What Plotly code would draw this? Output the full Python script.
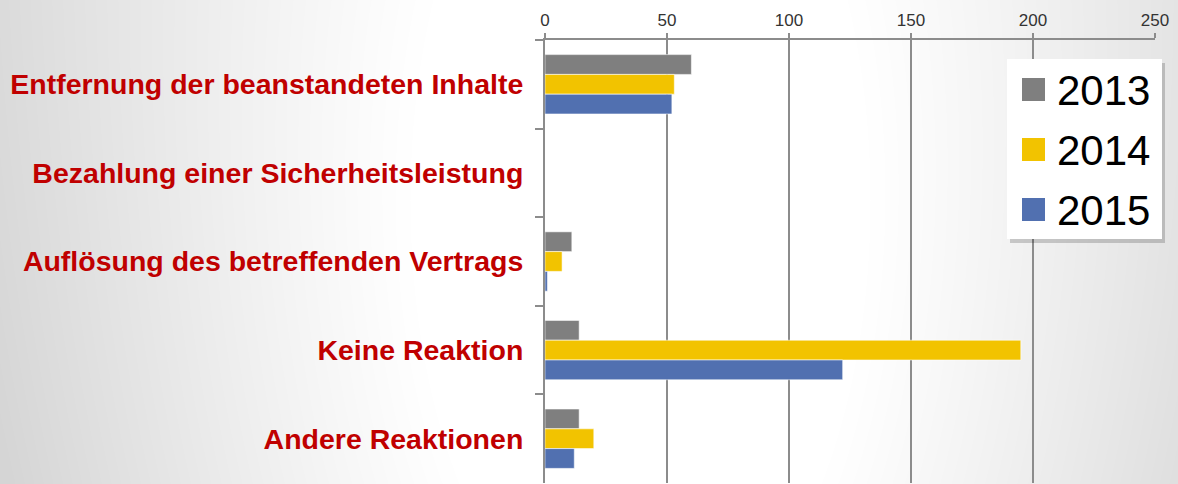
import base64
import struct
import zlib

import numpy as np
import plotly.graph_objects as go

# ---------------- data ----------------
categories = [
    "Entfernung der beanstandeten Inhalte",
    "Bezahlung einer Sicherheitsleistung",
    "Auflösung des betreffenden Vertrags",
    "Keine Reaktion",
    "Andere Reaktionen",
]
years = ["2013", "2014", "2015"]
values_2013 = [60, 0, 11, 14, 14]
values_2014 = [53, 0, 7, 195, 20]
values_2015 = [52, 0, 1, 122, 12]
x_tick_values = [0, 50, 100, 150, 200, 250]

series = [values_2013, values_2014, values_2015]
colors = ["#7F7F7F", "#F2C300", "#5170B0"]

# ---------------- geometry ----------------
W, H = 1178, 484
PL, PR, PT, PB = 545, 1155, 40, 483  # plot area in pixels


def px_x(px):
    return (px - PL) / (PR - PL)


def px_y(py):
    return (PB - py) / (PB - PT)


# ---------------- background gradient image ----------------
def make_png_gray(arr):
    h, w = arr.shape
    raw = b"".join(b"\x00" + arr[i].tobytes() for i in range(h))

    def chunk(t, d):
        return struct.pack(">I", len(d)) + t + d + struct.pack(">I", zlib.crc32(t + d) & 0xFFFFFFFF)

    ihdr = struct.pack(">IIBBBBB", w, h, 8, 0, 0, 0, 0)
    return b"\x89PNG\r\n\x1a\n" + chunk(b"IHDR", ihdr) + chunk(b"IDAT", zlib.compress(raw, 9)) + chunk(b"IEND", b"")


yy, xx = np.mgrid[0:H, 0:W].astype(float)
dx = xx - 640
dy = (yy - 200) * 0.5
d = np.sqrt(dx * dx + dy * dy)
t = np.clip((d - 230) / 420, 0, 1)
v = 255 - 36 * t ** 1.1 - 6 * (yy / H) * t
bg = np.clip(v, 0, 255).astype(np.uint8)
bg_uri = "data:image/png;base64," + base64.b64encode(make_png_gray(bg)).decode()

# ---------------- figure ----------------
fig = go.Figure()
for name, vals, col in zip(years, series, colors):
    fig.add_trace(
        go.Bar(
            y=categories,
            x=vals,
            name=name,
            orientation="h",
            marker=dict(color=col, line=dict(color="rgba(255,255,255,0.55)", width=1)),
            showlegend=False,
        )
    )

fig.add_layout_image(
    dict(
        source=bg_uri,
        xref="paper",
        yref="paper",
        x=px_x(0),
        y=px_y(0),
        sizex=W / (PR - PL),
        sizey=H / (PB - PT),
        xanchor="left",
        yanchor="top",
        sizing="stretch",
        layer="below",
    )
)

# custom legend (box, shadow, swatches, labels)
shapes = []
box = (1007, 59, 1162, 239)
shapes.append(dict(type="rect", xref="paper", yref="paper",
                   x0=px_x(box[0] + 3), x1=px_x(box[2] + 3), y0=px_y(box[3] + 4), y1=px_y(box[1] + 4),
                   fillcolor="rgba(0,0,0,0.18)", line=dict(width=0), layer="above"))
shapes.append(dict(type="rect", xref="paper", yref="paper",
                   x0=px_x(box[0]), x1=px_x(box[2]), y0=px_y(box[3]), y1=px_y(box[1]),
                   fillcolor="white", line=dict(width=0), layer="above"))
annotations = []
row_centers = [89.5, 149.5, 209.5]
for name, col, cy in zip(years, colors, row_centers):
    shapes.append(dict(type="rect", xref="paper", yref="paper",
                       x0=px_x(1022), x1=px_x(1045), y0=px_y(cy + 11.5), y1=px_y(cy - 11.5),
                       fillcolor=col, line=dict(width=0), layer="above"))
    annotations.append(dict(text=name, xref="paper", yref="paper", x=px_x(1055), y=px_y(cy + 1),
                            xanchor="left", yanchor="middle", showarrow=False,
                            font=dict(family="Liberation Sans, Arial, sans-serif", size=42, color="#000000")))

fig.update_layout(
    width=W,
    height=H,
    margin=dict(l=PL, r=W - PR, t=PT, b=H - PB, pad=0),
    paper_bgcolor="white",
    plot_bgcolor="rgba(0,0,0,0)",
    barmode="group",
    bargap=0.33,
    bargroupgap=0,
    shapes=shapes,
    annotations=annotations,
    showlegend=False,
    font=dict(family="Liberation Sans, Arial, sans-serif"),
)

fig.update_xaxes(
    side="top",
    range=[0, 250],
    tickvals=x_tick_values,
    ticktext=[str(v) for v in x_tick_values],
    showgrid=True,
    gridcolor="#8C8C8C",
    gridwidth=2,
    showline=True,
    linecolor="#8C8C8C",
    linewidth=2,
    ticks="outside",
    ticklen=5,
    tickwidth=2,
    tickcolor="#8C8C8C",
    tickfont=dict(size=17, color="#333333", family="Liberation Sans, Arial, sans-serif"),
    zeroline=False,
    fixedrange=True,
)

fig.update_yaxes(
    categoryorder="array",
    categoryarray=categories,
    autorange="reversed",
    showgrid=False,
    showline=True,
    linecolor="#8C8C8C",
    linewidth=2,
    ticks="outside",
    tickson="boundaries",
    ticklen=8,
    tickwidth=2,
    tickcolor="#8C8C8C",
    ticklabelstandoff=14,
    tickfont=dict(size=28.5, color="#C00000", family="Liberation Sans, Arial, sans-serif", weight="bold"),
    zeroline=False,
    fixedrange=True,
)

fig.write_html(
    "out.html",
    config={"displayModeBar": False},
    post_script="document.body.style.margin='0';document.body.style.overflow='hidden';",
)
